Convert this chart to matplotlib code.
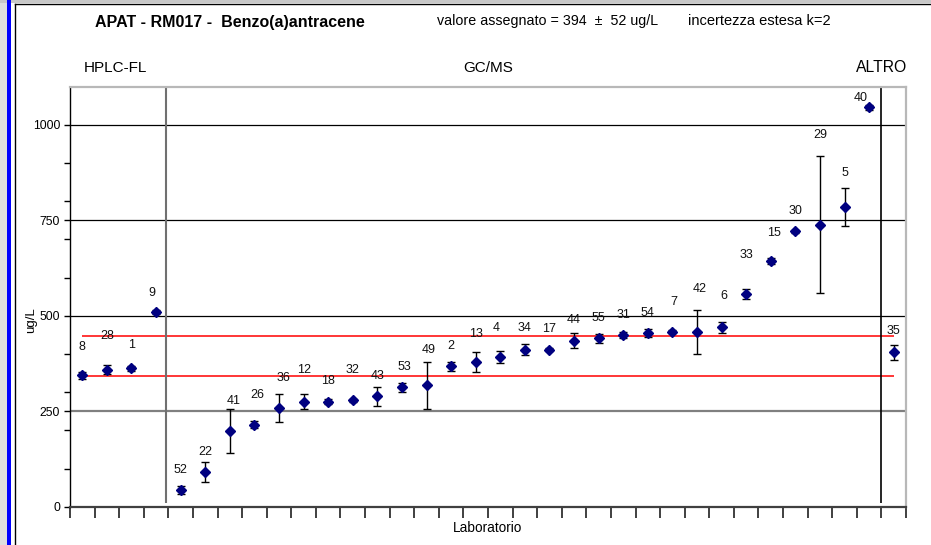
import matplotlib
matplotlib.use('Agg')
import matplotlib.pyplot as plt
import numpy as np
from matplotlib.ticker import FixedLocator, NullFormatter
from matplotlib.patches import Rectangle
from matplotlib.lines import Line2D

plt.rcParams['font.family'] = ['Liberation Sans', 'DejaVu Sans']

# ---- data ----
labs = [8, 28, 1, 9, 52, 22, 41, 26, 36, 12, 18, 32, 43, 53, 49, 2, 13, 4, 34, 17,
        44, 55, 31, 54, 7, 42, 6, 33, 15, 30, 29, 5, 40, 35]
values = [344, 359, 362, 510, 43, 90, 199, 215, 258, 275, 275, 279, 289, 313, 318,
          368, 379, 393, 411, 411, 435, 441, 449, 455, 458, 458, 470, 557, 643, 721,
          739, 785, 1046, 404]
errors = [10, 12, 7, 5, 11, 26, 58, 10, 37, 19, 7, 4, 24, 12, 61, 12, 27, 16, 14, 4,
          20, 12, 8, 11, 4, 58, 14, 12, 8, 4, 180, 49, 7, 19]
# label placement (annotation layout)
label_y = [417, 447, 424, 559, 96, 144, 278, 293, 336, 357, 330, 358, 343, 367, 411,
           422, 453, 468, 468, 466, 489, 494, 502, 507, 535, 571, 552, 660, 718, 775,
           974, 874, 1071, 459]
label_dx = [0, 0, 0, -0.15, 0, 0, 0.14, 0.13, 0.17, 0, 0, 0, 0, 0.1, 0.08, 0, 0, -0.17,
            0, 0, 0, 0, 0, 0, 0.06, 0.12, 0.1, 0, 0.13, 0, 0, 0, -0.35, 0]
assigned = 394
uncert = 52
y_major = [0, 250, 500, 750, 1000]
y_minor = [100, 200, 300, 400, 600, 700, 800, 900]
group_names = ['HPLC-FL', 'GC/MS', 'ALTRO']
sep_x = [4.4, 33.5]

W, H = 931, 545
fig = plt.figure(figsize=(W / 100, H / 100), dpi=100)

# ---- outer frame decorations ----
fig.patches.append(Rectangle((0, 0), 7 / W, 1, transform=fig.transFigure,
                             facecolor='#dedede', edgecolor='none', zorder=0))
fig.patches.append(Rectangle((0, 1 - 3 / H), 1, 3 / H, transform=fig.transFigure,
                             facecolor='#c8c8c8', edgecolor='none', zorder=0))
fig.patches.append(Rectangle((7 / W, 0), 4 / W, 1, transform=fig.transFigure,
                             facecolor='#0000ff', edgecolor='none', zorder=1))
fig.lines.append(Line2D([15 / W, 15 / W], [0, 1 - 4 / H], transform=fig.transFigure,
                        color='black', lw=1))
fig.lines.append(Line2D([15 / W, 1], [1 - 4 / H, 1 - 4 / H], transform=fig.transFigure,
                        color='black', lw=1))

# ---- axes ----
ax = fig.add_axes([70 / W, 1 - 506.7 / H, 836 / W, 420 / H])
x = np.arange(1, len(values) + 1)
n = len(values)
ax.set_xlim(0.5, n + 0.5)
ax.set_ylim(0, 1100)

# gridlines
for g in y_major[1:]:
    ax.hlines(g, 0.5, n + 0.5, color='#808080' if g == 250 else 'black',
              lw=1.6 if g == 250 else 0.9, zorder=1)

# reference lines
ax.hlines([assigned + uncert, assigned - uncert], 1, n, color='red', lw=1.1, zorder=2)

# separators
ax.vlines(sep_x[0], 10, 1097, color='#707070', lw=1.5, zorder=2)
ax.vlines(sep_x[1], 9, 1097, color='black', lw=1.2, zorder=2)

ax.errorbar(x, values, yerr=errors, fmt='D', color='#000080', ms=5, mec='#000080',
            ecolor='black', elinewidth=1, capsize=3, capthick=1, zorder=5)

for xi, lab, ly, dx in zip(x, labs, label_y, label_dx):
    ax.text(xi + dx, ly, str(lab), ha='center', va='center', fontsize=9, color='#111111')

# ticks
ax.xaxis.set_major_locator(FixedLocator(np.arange(0.5, n + 1, 1)))
ax.xaxis.set_major_formatter(NullFormatter())
ax.tick_params(axis='x', direction='out', length=8, width=1.4, color='#404040')
ax.yaxis.set_major_locator(FixedLocator(y_major))
ax.yaxis.set_minor_locator(FixedLocator(y_minor))
ax.tick_params(axis='y', which='both', direction='out', length=4, width=1, color='black',
               labelsize=8.8, pad=3)

for s in ['top', 'right']:
    ax.spines[s].set_color('#b8b8b8')
    ax.spines[s].set_linewidth(1.6)
ax.spines['left'].set_color('black')
ax.spines['left'].set_linewidth(1)
ax.spines['bottom'].set_color('#404040')
ax.spines['bottom'].set_linewidth(1.6)

# ---- texts ----
def ftext(px, py, s, **kw):
    fig.text(px / W, 1 - py / H, s, **kw)

ftext(95, 22, 'APAT - RM017 -  Benzo(a)antracene', ha='left', va='center',
      fontsize=11.5, fontweight='bold')
ftext(437, 21, 'valore assegnato = 394  \u00b1  52 ug/L', ha='left', va='center', fontsize=10.3)
ftext(688, 21, 'incertezza estesa k=2', ha='left', va='center', fontsize=10.5)
ftext(84, 68, group_names[0], ha='left', va='center', fontsize=11)
ftext(488, 68, group_names[1], ha='center', va='center', fontsize=11)
ftext(907, 68, group_names[2], ha='right', va='center', fontsize=11.3)
ftext(488, 528, 'Laboratorio', ha='center', va='center', fontsize=9.8)
ftext(31, 320, 'ug/L', ha='center', va='center', fontsize=9.5, rotation=90)

fig.savefig('out.png', dpi=100)
